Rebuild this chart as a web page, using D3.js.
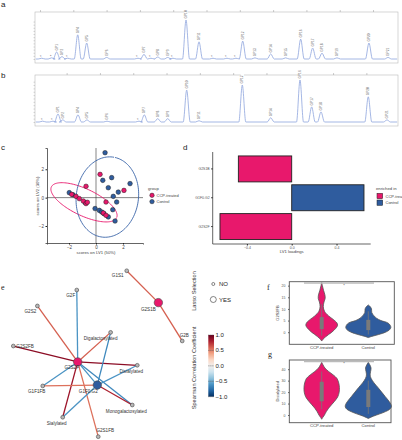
<!DOCTYPE html>
<html><head><meta charset="utf-8">
<script src="https://cdn.jsdelivr.net/npm/d3@7"></script>
<style>body{margin:0;background:#fff}svg{display:block;font-family:"Liberation Sans",Arial,sans-serif}</style>
</head><body><svg id="chart" width="402" height="440"></svg>
<script>
// ---------- DATA ----------
// a: chromatogram peaks (retention time, relative height, label)
const peakTimesA   = [0.2,1.4,2.0,2.64,3.33,4.53,5.61,8.01,11.77,12.49,13.33,14.14,15.34,15.97,17.54,19.1,20.78,22.46,23.54,24.35,25.82,27.71,29.51,31.31,32.75,33.87,35.67,39.51,41.8];
const peakHeightsA = [2,3,18,6,2,62,41,4,2,12,2,5,4,2,100,44,2,2,2,46,3,13,3,51,28,15,3,41,4];
const peakLabelsA  = ["*","*","GP1","GP2","*","GP4","GP5","GP6","*","GP7","*","GP8","GP9","*","GP10","GP11","*","*","*","GP12","GP13","GP14","GP15","GP16","GP17","GP18","GP19","GP20","GP21"];
// b: chromatogram peaks
const peakTimesB   = [0.32,1.56,2.16,2.73,4.56,5.64,8.05,11.89,12.53,14.14,15.34,17.62,19.1,24.3,27.71,31.23,32.63,33.75,39.43,41.68];
const peakHeightsB = [2,2,19,5,17,5,2,2,17,8,8,76,3,88,10,100,36,24,60,5];
const peakLabelsB  = ["*","*","GP1","GP2","GP4","GP5","GP6","*","GP7","GP8","GP9","GP10","GP11","GP12","GP14","GP16","GP17","GP18","GP20","GP21"];
const ticksA = [0,4,8,12,16,20,24,28,32,36,40];
const ticksB = [3.2,7.2,11.2,15.2,19.2,23.2,27.2,31.2,35.2,39.2];

// c: PLS-DA scores
const ccpX = [0.30,-0.74,2.07,0.74,-1.80,-1.48,-1.24,-0.94,-0.74,-0.64,0.54,0.74];
const ccpY = [1.64,0.80,0.51,-0.31,0.23,0.09,-0.07,-0.24,-0.42,-0.33,-1.08,-1.25];
const ctrlX = [0.67,0.50,1.16,2.52,0.91,1.65,1.28,1.53,-1.98,-0.81,-0.07,0.25,0.42,0.59,0.91,1.24,1.41,-1.70];
const ctrlY = [3.17,1.22,1.41,0.99,0.70,0.39,0.09,-0.31,0.35,-0.35,-0.77,-0.90,-1.01,-1.13,-1.36,-0.85,-1.65,0.20];
const cTicks = [-2,0,2];
const groups = ["CCP-treated","Control"];
// ellipses: [cx, cy, semi-major, semi-minor, angle deg]
const ellipseCCP  = [-0.89,-0.33,2.65,0.95,-24];
const ellipseCtrl = [0.84,0.04,2.85,2.3,80];

// d: LV1 loadings
const dFeatures = ["G2S1B","G1F0.G2","G2S2F"];
const dLoadings = [-0.476,0.645,-0.64];
const dEnriched = ["CCP-treated","Control","CCP-treated"];
const dTicks = [-0.4,0.0,0.4];

// e: correlation network
const nodeNames = ["G1S1","G2S1B","G2B","G2F","G2S2","G2S2FB","Digalactosylated","G2S2F","Disialylated","G1F1FB","G1F0.G2","Monogalactosylated","Sialylated","G2S1FB"];
const nodeLX    = [65.8,82.9,95.8,38.8,17.5,4.5,57.1,39.3,71.5,20.4,49.9,68.8,31.2,50.4];
const nodeLY    = [3.3,21.5,43.4,14.3,23.4,46.3,38.5,55.4,57.3,69.1,68.6,80.0,87.0,98.1];
const nodeLasso = ["NO","YES","NO","NO","NO","NO","NO","YES","NO","NO","YES","NO","NO","NO"];
const nodeGroup = [null,"CCP-treated",null,null,null,null,null,"CCP-treated",null,null,"Control",null,null,null];
const edgeFrom = ["G1S1","G2S1B","G2S2F","G2S2F","G2S2F","G2S2F","G2S2F","G2S2F","G2S2F","G2S2F","G2S2F","G2S2F","G1F0.G2","G1F0.G2","G1F0.G2","G1F0.G2","G1F0.G2"];
const edgeTo   = ["G2S1B","G2B","G2F","G2S2","G2S2FB","Digalactosylated","Disialylated","G1F1FB","Sialylated","G2S1FB","Monogalactosylated","G1F0.G2","Digalactosylated","Disialylated","G1F1FB","Monogalactosylated","Sialylated"];
const edgeRho  = [0.6,0.6,-0.6,0.6,0.9,0.6,0.9,-0.6,0.85,0.55,-0.65,-0.6,-0.65,-0.6,0.55,0.8,-0.6];
const rhoTicks = [1.0,0.5,0.0,-0.5,-1.0];

// f: G2S2FB violins (value, relative half-width)
const fTicks = [0,5,10,15,20];
const fCcpV = [21.5,20,18,16,14.5,13,11,9,7,5.5,4,3,2,1,0,-1,-2,-3,-3.8];
const fCcpW = [0,0.03,0.08,0.14,0.15,0.1,0.07,0.12,0.3,0.5,0.66,0.69,0.64,0.55,0.44,0.3,0.17,0.06,0];
const fCtrlV = [11.7,11,10,8.5,7,6,5,4,3,2,1,0,-1,-1.8,-2.3];
const fCtrlW = [0,0.08,0.14,0.15,0.25,0.36,0.55,0.85,0.95,0.98,0.92,0.75,0.45,0.15,0];
const fBox = [[-1.5,1.3,6.5,12],[-1,0.9,5.3,9]]; // whisker lo, q1, q3, whisker hi
// g: Disialylated violins
const gTicks = [0,10,20,30,40];
const gCcpV = [46,44,41,38,35,32,28,24,20,16,12,9,6,3,0,-2,-3.7];
const gCcpW = [0,0.05,0.14,0.3,0.5,0.66,0.74,0.77,0.76,0.7,0.56,0.43,0.3,0.2,0.12,0.05,0];
const gCtrlV = [46,44,41,38,35,32,28,24,20,16,12,9,7,5,3,1,-1,-3];
const gCtrlW = [0,0.06,0.12,0.1,0.08,0.12,0.25,0.42,0.58,0.74,0.9,0.99,1.0,0.93,0.75,0.5,0.22,0];
const gBox = [[5,12,29,38],[1,7,22,30]];

// ---------- DRAW ----------
const pink = "#E8186C", blue = "#2F5C9E";
const groupColor = d3.scaleOrdinal().domain(groups).range([pink, blue]);
const svg = d3.select("#chart");

function panelLetter(t, x, y, serif) {
  svg.append("text").attr("x", x).attr("y", y).text(t)
    .attr("font-size", 8).attr("fill", "#222")
    .attr("font-family", serif ? "'Liberation Serif',serif" : null);
}
panelLetter("a", 1, 7); panelLetter("b", 1, 78); panelLetter("c", 1, 150);
panelLetter("d", 183, 150); panelLetter("e", 1, 290, true);
panelLetter("f", 267, 290, true); panelLetter("g", 268, 357, true);

// ---- chromatograms ----
const tScale = d3.scaleLinear().domain([-0.6, 43]).range([35, 398]);
function chrom(times, heights, labels, ticks, top, bottom, base, peakTop) {
  const g = svg.append("g");
  const y = d3.scaleLinear().domain([0, 100]).range([base, peakTop]);
  g.append("rect").attr("x", 35).attr("y", top).attr("width", 363).attr("height", bottom - top)
    .attr("fill", "none").attr("stroke", "#bbb").attr("stroke-width", 0.6);
  const ax = g.append("g").attr("transform", `translate(0,${top})`)
    .call(d3.axisTop(tScale).tickValues(ticks).tickSize(2).tickFormat(""));
  ax.select(".domain").remove();
  ax.selectAll("line").attr("stroke", "#999").attr("stroke-width", 0.5);
  const ay = g.append("g").attr("transform", "translate(35,0)")
    .call(d3.axisLeft(y).tickValues(d3.range(0, 101, 8)).tickSize(1.5).tickFormat(""));
  ay.select(".domain").remove();
  ay.selectAll("line").attr("stroke", "#999").attr("stroke-width", 0.4);
  const w = 0.42;
  const pts = [[-0.5, 0]];
  times.forEach((t, i) => { pts.push([t - w, 0], [t, heights[i]], [t + w, 0]); });
  pts.push([42.9, 0]);
  g.append("path").datum(pts)
    .attr("d", d3.line().x(d => tScale(d[0])).y(d => y(d[1])).curve(d3.curveMonotoneX))
    .attr("fill", "none").attr("stroke", "#8EA4DD").attr("stroke-width", 0.8);
  times.forEach((t, i) => {
    const isStar = labels[i] === "*";
    const yy = y(heights[i]) - 1.5;
    if (!isStar) {
      g.append("rect").attr("x", tScale(t) - 1.6).attr("y", yy - (labels[i].length * 2.4 + 1))
        .attr("width", 3.2).attr("height", labels[i].length * 2.4 + 1).attr("fill", "#fff");
    }
    g.append("text").attr("transform", `translate(${tScale(t) + 1.1},${yy}) rotate(-90)`)
      .attr("font-size", isStar ? 4 : 3.2).attr("fill", "#666").text(labels[i]);
  });
}
chrom(peakTimesA, peakHeightsA, peakLabelsA, ticksA, 12, 63, 59, 20);
chrom(peakTimesB, peakHeightsB, peakLabelsB, ticksB, 75, 126, 122, 80);

// ---- c: scores ----
{
  const x = d3.scaleLinear().domain([-3.63, 3.48]).range([47, 143]);
  const y = d3.scaleLinear().domain([-3.2, 3.5]).range([243, 148]);
  const g = svg.append("g");
  g.append("line").attr("x1", x(0)).attr("x2", x(0)).attr("y1", 148).attr("y2", 243).attr("stroke", "#333").attr("stroke-width", 0.6);
  g.append("line").attr("x1", 47).attr("x2", 143).attr("y1", y(0)).attr("y2", y(0)).attr("stroke", "#333").attr("stroke-width", 0.6);
  const ax = g.append("g").attr("transform", "translate(0,243)").call(d3.axisBottom(x).tickValues(cTicks).tickSize(1.5).tickPadding(1).tickFormat(d3.format("d")));
  const ay = g.append("g").attr("transform", "translate(47,0)").call(d3.axisLeft(y).tickValues(cTicks).tickSize(1.5).tickPadding(1.5).tickFormat(d3.format("d")));
  [ax, ay].forEach(a => { a.selectAll("text").attr("font-size", 4.5).attr("fill", "#444"); a.select(".domain").attr("stroke", "#222").attr("stroke-width", 0.7); a.selectAll("line").attr("stroke", "#222"); });
  g.append("text").attr("x", 96).attr("y", 253.5).attr("text-anchor", "middle").attr("font-size", 4.2).attr("fill", "#444").text("scores on LV1 (50%)");
  g.append("text").attr("transform", "translate(39,196) rotate(-90)").attr("text-anchor", "middle").attr("font-size", 4.2).attr("fill", "#444").text("scores on LV2 (30%)");
  function ell(p, color) {
    const [cx, cy, a, b, ang] = p; const r = ang * Math.PI / 180;
    const pts = d3.range(0, 2 * Math.PI + 0.01, 0.05).map(t => [
      cx + a * Math.cos(t) * Math.cos(r) - b * Math.sin(t) * Math.sin(r),
      cy + a * Math.cos(t) * Math.sin(r) + b * Math.sin(t) * Math.cos(r)]);
    g.append("path").datum(pts).attr("d", d3.line().x(d => x(d[0])).y(d => y(d[1])))
      .attr("fill", "none").attr("stroke", color).attr("stroke-width", 0.9);
  }
  ell(ellipseCCP, pink); ell(ellipseCtrl, "#3A64A8");
  ctrlX.forEach((v, i) => g.append("circle").attr("cx", x(v)).attr("cy", y(ctrlY[i])).attr("r", 2.3).attr("fill", blue).attr("stroke", "#222").attr("stroke-width", 0.5));
  ccpX.forEach((v, i) => g.append("circle").attr("cx", x(v)).attr("cy", y(ccpY[i])).attr("r", 2.3).attr("fill", pink).attr("stroke", "#222").attr("stroke-width", 0.5));
  g.append("text").attr("x", 148).attr("y", 190).attr("font-size", 4.2).attr("fill", "#444").text("group");
  groups.forEach((s, i) => {
    g.append("circle").attr("cx", 152).attr("cy", 195.3 + i * 6.3).attr("r", 2.2).attr("fill", groupColor(s)).attr("stroke", "#222").attr("stroke-width", 0.5);
    g.append("text").attr("x", 156.5).attr("y", 196.8 + i * 6.3).attr("font-size", 4).attr("fill", "#444").text(s);
  });
}

// ---- d: loadings ----
{
  const x = d3.scaleLinear().domain([-0.705, 0.705]).range([212.7, 370.7]);
  const y = d3.scaleBand().domain(dFeatures).range([154.5, 241]).paddingInner(0.1).paddingOuter(0.05);
  const g = svg.append("g");
  dFeatures.forEach((f, i) => {
    const v = dLoadings[i];
    g.append("rect").attr("x", x(Math.min(0, v))).attr("y", y(f)).attr("width", Math.abs(x(v) - x(0))).attr("height", y.bandwidth())
      .attr("fill", groupColor(dEnriched[i])).attr("stroke", "#222").attr("stroke-width", 0.9);
  });
  const ax = g.append("g").attr("transform", "translate(0,244)").call(d3.axisBottom(x).tickValues(dTicks).tickSize(1.5).tickPadding(1).tickFormat(d3.format(".1f")).tickSizeOuter(0));
  ax.select(".domain").attr("d", "M212.7,0H370.7");
  const ay = g.append("g").attr("transform", "translate(212.7,0)").call(d3.axisLeft(y).tickSize(1.5).tickPadding(1.5).tickSizeOuter(0));
  ay.select(".domain").attr("d", "M0,152V244");
  [ax, ay].forEach(a => { a.selectAll("text").attr("font-size", 3.5).attr("fill", "#555"); a.select(".domain").attr("stroke", "#222").attr("stroke-width", 0.7); a.selectAll("line").attr("stroke", "#222"); });
  g.append("text").attr("x", 291.7).attr("y", 253).attr("text-anchor", "middle").attr("font-size", 4.2).attr("fill", "#444").text("LV1 loadings");
  g.append("text").attr("x", 376).attr("y", 190).attr("font-size", 4.2).attr("fill", "#444").text("enriched in");
  groups.forEach((s, i) => {
    g.append("rect").attr("x", 377).attr("y", 193.3 + i * 6.7).attr("width", 5.7).attr("height", 5.4).attr("fill", groupColor(s)).attr("stroke", "#222").attr("stroke-width", 0.5);
    g.append("text").attr("x", 385.5).attr("y", 197.5 + i * 6.7).attr("font-size", 4).attr("fill", "#444").text(s === "CCP-treated" ? "CCP-treat" : s);
  });
}

// ---- e: network ----
{
  const ex = d3.scaleLinear().domain([0, 100]).range([5, 190]);
  const ey = d3.scaleLinear().domain([0, 100]).range([265, 440]);
  const rhoColor = v => d3.interpolateRdBu((1 - v) / 2);
  const pos = {}; nodeNames.forEach((n, i) => pos[n] = [ex(nodeLX[i]), ey(nodeLY[i])]);
  const g = svg.append("g");
  edgeFrom.forEach((f, i) => {
    const a = pos[f], b = pos[edgeTo[i]];
    g.append("line").attr("x1", a[0]).attr("y1", a[1]).attr("x2", b[0]).attr("y2", b[1])
      .attr("stroke", rhoColor(edgeRho[i])).attr("stroke-width", 1.3);
  });
  const lab = {"G1S1":[-9,6.5,"middle"],"G2S1B":[-10,8,"middle"],"G2B":[2,-4,"middle"],"G2F":[-6,7,"middle"],"G2S2":[-7,7.5,"middle"],
    "G2S2FB":[3,1.5,"start"],"Digalactosylated":[-10,8,"middle"],"G2S2F":[-6,7.5,"middle"],"Disialylated":[-6,7.5,"middle"],
    "G1F1FB":[-6,7.5,"middle"],"G1F0.G2":[-9,7.5,"middle"],"Monogalactosylated":[-6,7.5,"middle"],"Sialylated":[-6,8,"middle"],"G2S1FB":[7,-4.5,"middle"]};
  nodeNames.forEach((n, i) => {
    const p = pos[n], big = nodeLasso[i] === "YES";
    g.append("circle").attr("cx", p[0]).attr("cy", p[1]).attr("r", big ? 4.2 : 1.9)
      .attr("fill", big ? groupColor(nodeGroup[i]) : "#b8b8b8").attr("stroke", "#444").attr("stroke-width", 0.6);
    const l = lab[n];
    g.append("text").attr("x", p[0] + l[0]).attr("y", p[1] + l[1]).attr("text-anchor", l[2])
      .attr("font-size", 4.6).attr("fill", "#333").text(n);
  });
  // legend
  const lg = svg.append("g");
  lg.append("text").attr("transform", "translate(196,291) rotate(-90)").attr("text-anchor", "middle").attr("font-size", 5.6).attr("fill", "#333").text("Lasso Selection");
  [["NO", 1.5, 284], ["YES", 3, 299.5]].forEach(d => {
    lg.append("circle").attr("cx", 213.3).attr("cy", d[2]).attr("r", d[1]).attr("fill", "none").attr("stroke", "#333").attr("stroke-width", 0.6);
    lg.append("text").attr("x", 219).attr("y", d[2] + 2).attr("font-size", 6).attr("fill", "#222").text(d[0]);
  });
  lg.append("text").attr("transform", "translate(196,368) rotate(-90)").attr("text-anchor", "middle").attr("font-size", 5.6).attr("fill", "#333").text("Spearman Correlation Coefficient");
  const cy = d3.scaleLinear().domain([-1, 1]).range([396.7, 335]);
  const grad = svg.append("defs").append("linearGradient").attr("id", "rdbu").attr("x1", 0).attr("x2", 0).attr("y1", 0).attr("y2", 1);
  d3.range(0, 1.001, 0.1).forEach(o => grad.append("stop").attr("offset", o).attr("stop-color", d3.interpolateRdBu(o)));
  lg.append("rect").attr("x", 208.3).attr("y", cy(1)).attr("width", 5.7).attr("height", cy(-1) - cy(1)).attr("fill", "url(#rdbu)");
  rhoTicks.forEach(v => {
    lg.append("line").attr("x1", 208.3).attr("x2", 214).attr("y1", cy(v)).attr("y2", cy(v)).attr("stroke", "#555").attr("stroke-width", 0.6).attr("stroke-dasharray", "1.2,0.8");
    lg.append("text").attr("x", 215.5).attr("y", cy(v) + 2).attr("font-size", 6).attr("fill", "#222").text(d3.format(".1f")(v).replace("-", "\u2212"));
  });
}

// ---- f, g: violins ----
function violin(top, bottom, left, right, domain, ticks, yLabel, ccpV, ccpW, ctrlV, ctrlW, boxes, sigY) {
  const g = svg.append("g");
  const y = d3.scaleLinear().domain(domain).range([bottom, top]);
  const x = d3.scalePoint().domain(groups).range([298.4, 391.6]).padding(0.5);
  const w = d3.scaleLinear().domain([0, 1]).range([0, 23]);
  g.append("rect").attr("x", left).attr("y", top).attr("width", right - left).attr("height", bottom - top)
    .attr("fill", "none").attr("stroke", "#555").attr("stroke-width", 0.9);
  const ay = g.append("g").attr("transform", `translate(${left},0)`).call(d3.axisLeft(y).tickValues(ticks).tickSize(1.2));
  ay.select(".domain").remove();
  ay.selectAll("text").attr("font-size", 3.5).attr("fill", "#555").attr("dx", "0.1em");
  ay.selectAll("line").attr("stroke", "#555");
  [[ccpV, ccpW], [ctrlV, ctrlW]].forEach((p, k) => {
    const cx = x(groups[k]);
    const pts = p[0].map((v, i) => [v, p[1][i]]);
    g.append("path").datum(pts).attr("d", d3.area().y(d => y(d[0])).x0(d => cx - w(d[1])).x1(d => cx + w(d[1])).curve(d3.curveCatmullRom))
      .attr("fill", groupColor(groups[k])).attr("stroke", "#555").attr("stroke-width", 0.8);
    const b = boxes[k];
    g.append("line").attr("x1", cx).attr("x2", cx).attr("y1", y(b[0])).attr("y2", y(b[3])).attr("stroke", "#777").attr("stroke-width", 0.8);
    g.append("rect").attr("x", cx - 2).attr("y", y(b[2])).attr("width", 4).attr("height", y(b[1]) - y(b[2])).attr("fill", "#7a7a7a");
    g.append("text").attr("x", cx).attr("y", bottom + 4.5).attr("text-anchor", "middle").attr("font-size", 4.2).attr("fill", "#444").text(groups[k]);
  });
  g.append("line").attr("x1", 304).attr("x2", 374).attr("y1", sigY).attr("y2", sigY).attr("stroke", "#bbb").attr("stroke-width", 1.3);
  g.append("text").attr("x", 344).attr("y", sigY + 3.8).attr("text-anchor", "middle").attr("font-size", 4).attr("fill", "#444").text("*");
  g.append("text").attr("transform", `translate(${left - 10},${(top + bottom) / 2}) rotate(-90)`).attr("text-anchor", "middle").attr("font-size", 4).attr("fill", "#444").text(yLabel);
}
violin(281.7, 344.3, 289.3, 394.3, [-5.2, 21.7], fTicks, "G2S2FB", fCcpV, fCcpW, fCtrlV, fCtrlW, fBox, 283);
violin(360, 422.7, 289.3, 391, [-6.7, 48], gTicks, "Disialylated", gCcpV, gCcpW, gCtrlV, gCtrlW, gBox, 361.5);
</script>
</body></html>
